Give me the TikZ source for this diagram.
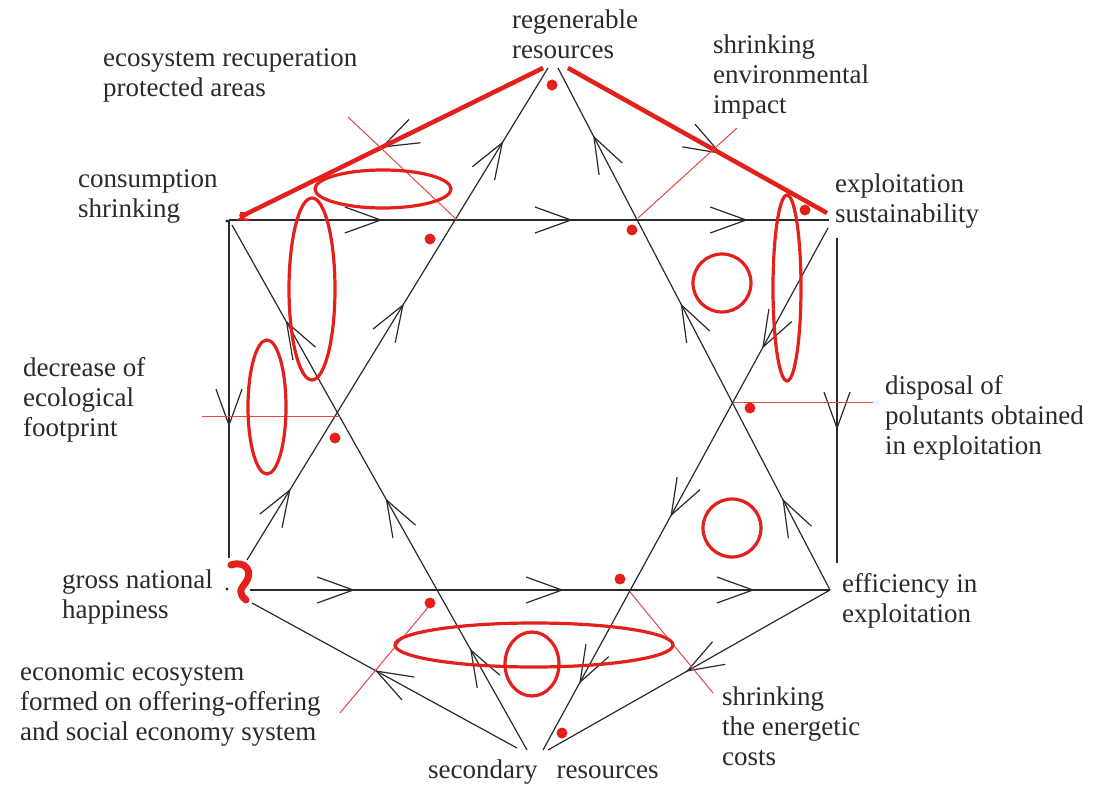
\documentclass[tikz,border=0pt]{standalone}
\usepackage{fontspec}
\setmainfont{Liberation Serif}
\usetikzlibrary{decorations.markings}
\definecolor{rd}{HTML}{E3201B}
\definecolor{rdthin}{HTML}{E04848}
\definecolor{ink}{HTML}{2A2A2A}
\newcommand{\lbl}[1]{\begin{tabular}[t]{@{}l@{}}#1\end{tabular}}
\begin{document}
\begin{tikzpicture}[x=1pt,y=-1pt,
  blk/.style={draw=ink, line width=1.2pt},
  arrowat/.style={postaction={decorate,decoration={markings,mark=at position #1 with {\draw[ink,line width=1.2pt] (-36pt,13pt) -- (0pt,0pt) -- (-36pt,-13pt);}}}},
  redbar/.style={draw=rd, line width=4.5pt},
  redring/.style={draw=rd, line width=3.2pt},
  redthin/.style={draw=rdthin, line width=1pt},
  reddot/.style={fill=rd},
  lab/.style={anchor=base west, inner sep=0pt, text=ink, font=\fontsize{27}{30}\selectfont}]
\fill[white] (0,0) rectangle (1093,786);
\useasboundingbox (0,0) rectangle (1093,786);
% corner coordinates
\coordinate (CS) at (229,220);
\coordinate (ES) at (829,220);
\coordinate (GNH) at (250,590);
\coordinate (EF) at (830,590);
\coordinate (AL) at (548,68);
\coordinate (AR) at (558,68);
\coordinate (SL) at (527,750);
\coordinate (SR) at (543,750);
\coordinate (GNHu) at (247,560);
\coordinate (GNHd) at (252,603);
\coordinate (Sg) at (517,748);
\coordinate (Se) at (548,750);
\coordinate (CSd) at (232,225);
\coordinate (ESd) at (828,228);
\coordinate (VLt) at (229,220);
\coordinate (VLb) at (229,558);
\coordinate (VRt) at (837,238);
\coordinate (VRb) at (837,563);
\coordinate (ATl) at (543,68);
\coordinate (ATr) at (568,68);
\coordinate (CSr) at (240,217);
\coordinate (ESr) at (827,213);
% black network
\draw[blk, arrowat=0.253, arrowat=0.57, arrowat=0.862] (CS) -- (ES);
\draw[blk, arrowat=0.178, arrowat=0.538, arrowat=0.867] (GNH) -- (EF);
\draw[blk, arrowat=0.607] (VLt) -- (VLb);
\draw[blk, arrowat=0.585] (VRt) -- (VRb);
\draw[blk, arrowat=0.142, arrowat=0.518, arrowat=0.848] (GNHu) -- (AL);
\draw[blk, arrowat=0.172, arrowat=0.546, arrowat=0.868] (EF) -- (AR);
\draw[blk, arrowat=0.19, arrowat=0.476, arrowat=0.815] (SL) -- (CSd);
\draw[blk, arrowat=0.228, arrowat=0.55, arrowat=0.87] (ESd) -- (SR);
\draw[blk, arrowat=0.53] (Sg) -- (GNHd);
\draw[blk, arrowat=0.505] (EF) -- (Se);
\draw[blk, arrowat=0.53] (ATl) -- (CSr);
\draw[blk, arrowat=0.587] (ATr) -- (ESr);
\fill[ink] (227,221) circle [radius=1.6];
\fill[ink] (227,589) circle [radius=1.6];
% red thick lines
\draw[redbar] (ATl) -- (CSr);
\draw[redbar] (ATr) -- (ESr);
\draw[rd, line width=2.5pt] (240,213) -- (248,214) -- (240,219) -- (249,220);
% red thin pointer lines
\coordinate (p1a) at (348,117); \coordinate (p1b) at (457,220);
\coordinate (p2a) at (737,128); \coordinate (p2b) at (638,218);
\coordinate (p3a) at (202,416); \coordinate (p3b) at (340,416);
\coordinate (p4a) at (733,403); \coordinate (p4b) at (873,403);
\coordinate (p5a) at (340,713); \coordinate (p5b) at (430,605);
\coordinate (p6a) at (630,592); \coordinate (p6b) at (713,693);
\draw[redthin] (p1a) -- (p1b);
\draw[redthin] (p2a) -- (p2b);
\draw[redthin] (p3a) -- (p3b);
\draw[redthin] (p4a) -- (p4b);
\draw[redthin] (p5a) -- (p5b);
\draw[redthin] (p6a) -- (p6b);
% red ellipses and circles
\draw[redring] (383,189) ellipse [x radius=68, y radius=19];
\draw[redring] (312,289) ellipse [x radius=23, y radius=91];
\draw[redring] (267,407) ellipse [x radius=19, y radius=67];
\draw[redring] (787,288) ellipse [x radius=14, y radius=93];
\draw[redring] (722,283) circle [radius=29];
\draw[redring] (732,528) circle [radius=29];
\draw[redring] (534,645) ellipse [x radius=139, y radius=22];
\draw[redring] (532,664) ellipse [x radius=27, y radius=32];
% red dots
\foreach \p in {(552,85),(430,239),(632,230),(805,210),(335,438),(750,408),(430,603),(620,579),(562,733)}
  \fill[reddot] \p circle [radius=5.5];
% red squiggle at gross national happiness
\draw[rd, line width=7pt, line cap=round, line join=round] (231,565) .. controls (246,560) and (253,572) .. (246,582) .. controls (240,590) and (238,593) .. (246,600);
% labels
\node[lab] (regen) at (512,29) {\lbl{regenerable\\resources}};
\node[lab] (ecorec) at (103,67) {\lbl{ecosystem recuperation\\protected areas}};
\node[lab] (shrenv) at (713,54) {\lbl{shrinking\\environmental\\impact}};
\node[lab] (cons) at (78,188) {\lbl{consumption\\shrinking}};
\node[lab] (expl) at (835,193) {\lbl{exploitation\\sustainability}};
\node[lab] (decr) at (23,377) {\lbl{decrease of\\ecological\\footprint}};
\node[lab] (disp) at (885,395) {\lbl{disposal of\\polutants obtained\\in exploitation}};
\node[lab] (gnh) at (62,588) {\lbl{gross national\\happiness}};
\node[lab] (eff) at (842,592) {\lbl{efficiency in\\exploitation}};
\node[lab] (econ) at (20,680) {\lbl{economic ecosystem\\formed on offering-offering\\and social economy system}};
\node[lab] (shrcost) at (722,705) {\lbl{shrinking\\the energetic\\costs}};
\node[lab] (sec) at (428,778) {secondary\hspace{19pt}resources};
\end{tikzpicture}
\end{document}
